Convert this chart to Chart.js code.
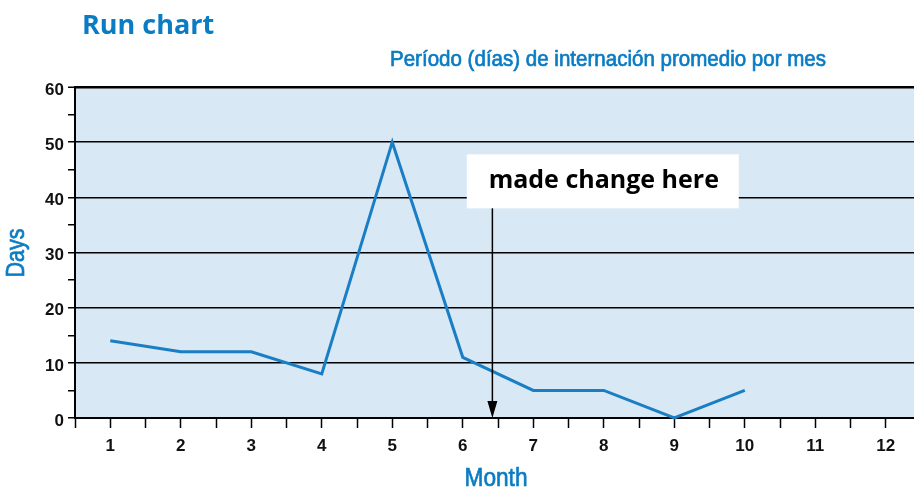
<!DOCTYPE html>
<html>
<head>
<meta charset="utf-8">
<script src="https://cdn.jsdelivr.net/npm/chart.js@4"></script>
<style>
  body { margin: 0; background: #fff; }
  #wrap { width: 914px; height: 489px; }
</style>
</head>
<body>
<div id="wrap"><canvas id="run-chart" width="914" height="489"></canvas></div>
<script>
const months = [1, 2, 3, 4, 5, 6, 7, 8, 9, 10];
const days = [14, 12, 12, 8, 50, 11, 5, 5, 0, 5];
const xTickValues = [0.5, 1, 1.5, 2, 2.5, 3, 3.5, 4, 4.5, 5, 5.5, 6, 6.5, 7, 7.5, 8, 8.5, 9, 9.5, 10, 10.5, 11, 11.5, 12];
const titleText = 'Run chart';
const subtitleText = 'Período (días) de internación promedio por mes';
const xTitle = 'Month';
const yTitle = 'Days';
const noteText = 'made change here';
const noteMonth = 6.42;

const blue = '#0a7cc4';

// draw text squeezed to a given width (stands in for a condensed face)
function drawNarrow(c, text, x, y, font, width) {
    c.save();
    c.font = font;
    const w = c.measureText(text).width;
    c.translate(x, y);
    c.scale(width / w, 1);
    c.textAlign = 'center';
    c.fillText(text, 0, 0);
    c.strokeStyle = c.fillStyle;
    c.lineWidth = 0.7;
    c.strokeText(text, 0, 0);
    c.restore();
}

const decorPlugin = {
    id: 'decor',
    beforeDraw(chart) {
        const a = chart.chartArea;
        const c = chart.ctx;
        c.save();
        c.fillStyle = '#d8e8f5';
        c.fillRect(a.left, a.top, a.right - a.left, a.bottom - a.top);
        c.restore();
    },
    afterDraw(chart) {
        const c = chart.ctx;
        const xs = chart.scales.x;
        const ys = chart.scales.y;
        c.save();

        c.fillStyle = blue;
        c.textBaseline = 'alphabetic';
        c.textAlign = 'left';
        c.font = 'bold 27px "Open Sans"';
        c.fillText(titleText, 82, 34);

        drawNarrow(c, subtitleText, 608, 66, '22px "Liberation Sans"', 436);
        drawNarrow(c, xTitle, 496, 486, '26px "Liberation Sans"', 63);

        c.save();
        c.translate(24, 253);
        c.rotate(-Math.PI / 2);
        drawNarrow(c, yTitle, 0, 0, '25px "Liberation Sans"', 49);
        c.restore();

        // note box
        const cx = xs.getPixelForValue(8.0);
        const cy = ys.getPixelForValue(42.9);
        const bw = 272, bh = 54;
        c.fillStyle = '#fff';
        c.fillRect(cx - bw / 2 - 1, cy - bh / 2, bw, bh);
        c.fillStyle = '#000';
        c.textAlign = 'center';
        c.textBaseline = 'middle';
        c.font = 'bold 25px "Open Sans"';
        c.fillText(noteText, cx, cy);

        // arrow
        const ax = xs.getPixelForValue(noteMonth);
        const y0 = cy + bh / 2;
        const y1 = ys.getPixelForValue(0);
        c.strokeStyle = '#000';
        c.lineWidth = 1.5;
        c.beginPath();
        c.moveTo(ax, y0);
        c.lineTo(ax, y1 - 14);
        c.stroke();
        c.beginPath();
        c.moveTo(ax - 5, y1 - 17);
        c.lineTo(ax + 5, y1 - 17);
        c.lineTo(ax, y1);
        c.closePath();
        c.fill();

        c.restore();
    }
};

const ctx = document.getElementById('run-chart');
new Chart(ctx, {
    type: 'line',
    data: {
        datasets: [{
            data: months.map((m, i) => ({ x: m, y: days[i] })),
            borderColor: '#1a7ec4',
            borderWidth: 3,
            pointRadius: 0,
            tension: 0,
            clip: false
        }]
    },
    options: {
        responsive: false,
        animation: false,
        layout: { padding: { top: 87, left: 0, right: 0, bottom: 0 } },
        plugins: {
            legend: { display: false },
            tooltip: { enabled: false }
        },
        scales: {
            x: {
                type: 'linear',
                min: 0.5,
                max: 12.4,
                afterBuildTicks: function(scale) {
                    scale.ticks = xTickValues.map(v => ({ value: v }));
                },
                afterFit: function(scale) { scale.height = 71; },
                ticks: {
                    autoSkip: false,
                    maxRotation: 0,
                    padding: 8,
                    color: '#111',
                    font: { family: '"Liberation Sans"', size: 17, weight: 'bold' },
                    callback: function(value) {
                        return Number.isInteger(value) ? value : '';
                    }
                },
                grid: {
                    drawOnChartArea: false,
                    drawTicks: true,
                    tickLength: 10,
                    tickColor: '#000',
                    tickWidth: 1.5
                },
                border: { display: true, color: '#000', width: 2 }
            },
            y: {
                min: 0,
                max: 60,
                afterFit: function(scale) { scale.width = 75; },
                ticks: {
                    stepSize: 5,
                    autoSkip: false,
                    padding: 4,
                    labelOffset: 3,
                    color: '#111',
                    font: { family: '"Liberation Sans"', size: 17, weight: 'bold' },
                    callback: function(value) {
                        return value % 10 === 0 ? value : '';
                    }
                },
                grid: {
                    color: function(c) {
                        return c.tick && c.tick.value % 10 === 0 ? '#000' : 'rgba(0,0,0,0)';
                    },
                    lineWidth: function(c) {
                        return c.tick && c.tick.value === 60 ? 2.5 : 1.5;
                    },
                    tickColor: '#000',
                    tickWidth: 1.5,
                    tickLength: 7
                },
                border: { display: true, color: '#000', width: 2 }
            }
        }
    },
    plugins: [decorPlugin]
});
</script>
</body>
</html>
